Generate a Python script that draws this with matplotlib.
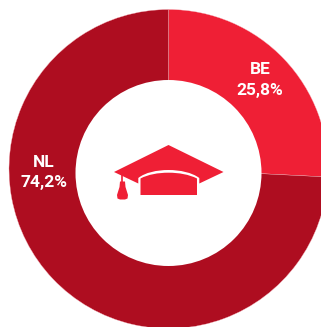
from matplotlib import pyplot as plt
from matplotlib.patches import Polygon, PathPatch, Circle
from matplotlib.path import Path

labels = ['BE', 'NL']
shares = [25.8, 74.2]
colors = ['#ef1f35', '#ae0d20']
red = '#ef1f35'

plt.rcParams['font.family'] = ['Roboto', 'DejaVu Sans']

fig = plt.figure(figsize=(3.21, 3.27), dpi=100)
ax = fig.add_axes([0, 0, 1, 1])

# y axis runs downward (set below), so counterclock draws the slices clockwise on screen
ax.pie(shares, colors=colors, center=(168.5, 169), radius=159.5,
       startangle=-90, counterclock=True,
       wedgeprops=dict(linewidth=0.25, edgecolor='#f6b0b8'),
       frame=False)
ax.set_xlim(0, 321)
ax.set_ylim(327, 0)
ax.set_aspect('auto')
ax.axis('off')

# hole of the ring
ax.add_patch(Circle((168.5, 173), 93, fc='white', ec='none', zorder=3))


def fmt(v):
    return f'{v:.1f}'.replace('.', ',') + '%'


txt = dict(color='white', fontsize=12.5, fontweight='bold', ha='center', va='center', zorder=5)
ax.text(260, 69, labels[0], **txt)
ax.text(260, 90, fmt(shares[0]), **txt)
ax.text(44, 162.5, labels[1], **txt)
ax.text(44, 183, fmt(shares[1]), **txt)

# graduation cap
M, L, C, Z = Path.MOVETO, Path.LINETO, Path.CURVE4, Path.CLOSEPOLY
board = Path([(168.5, 145), (223.5, 172), (199.3, 183.5), (199.3, 178),
              (192, 172.5), (180, 170), (168.5, 170),
              (157, 170), (145, 172.5), (138.3, 178),
              (138.3, 183.5), (114, 172), (168.5, 145)],
             [M, L, L, L, C, C, C, C, C, C, L, L, Z])
ax.add_patch(PathPatch(board, fc=red, ec='none', zorder=4))

cap = Path([(140.5, 195), (140.5, 178.5),
            (148, 174.5), (158, 172.7), (168.5, 172.7),
            (179, 172.7), (189, 174.5), (197, 178.5),
            (197, 195), (140.5, 195)],
           [M, L, C, C, C, C, C, C, L, Z])
ax.add_patch(PathPatch(cap, fc=red, ec='none', zorder=4))

ax.plot([122.4, 122.4], [175, 184], color=red, lw=1.2, solid_capstyle='butt', zorder=4)
tassel = Polygon([(120, 181.5), (125, 181.5), (125.5, 187), (128, 195), (127.5, 198.5), (125, 199.5), (120, 199.5),
                  (117.5, 198.5), (117, 195), (119.5, 187)], closed=True, fc=red, ec='none', zorder=4)
ax.add_patch(tassel)

fig.savefig('out.png', dpi=100)
